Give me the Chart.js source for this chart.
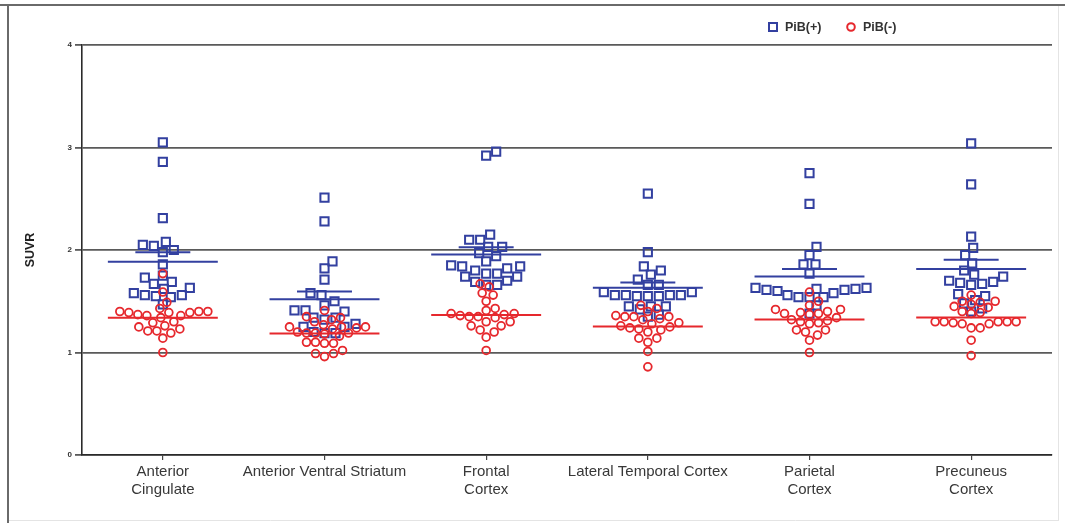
<!DOCTYPE html>
<html>
<head>
<meta charset="utf-8">
<title>SUVR by region</title>
<script src="https://cdn.jsdelivr.net/npm/chart.js@4.4.1/dist/chart.umd.min.js"></script>
<style>
  html, body { margin: 0; padding: 0; background: #ffffff; }
  #wrap { width: 1065px; height: 523px; }
</style>
</head>
<body>
<div id="wrap"><canvas id="chart" width="1065" height="523"></canvas></div>
<script>
// Regions along the x axis
const categories = [
  ['Anterior', 'Cingulate'],
  'Anterior Ventral Striatum',
  ['Frontal', 'Cortex'],
  'Lateral Temporal Cortex',
  ['Parietal', 'Cortex'],
  ['Precuneus', 'Cortex']
];
const yTicks = [0, 1, 2, 3, 4];

// PiB(+) subjects, SUVR per region
const posAnteriorCingulate = [3.05, 2.86, 2.31, 2.08, 2.05, 2.04, 2.00, 1.98, 1.86, 1.75, 1.73, 1.69, 1.67, 1.63, 1.62, 1.58, 1.56, 1.56, 1.55, 1.54, 1.47];
const posVentralStriatum   = [2.51, 2.28, 1.89, 1.82, 1.71, 1.58, 1.56, 1.50, 1.46, 1.41, 1.41, 1.40, 1.34, 1.34, 1.32, 1.28, 1.25, 1.25, 1.20, 1.19, 1.19];
const posFrontal           = [2.96, 2.92, 2.15, 2.10, 2.10, 2.03, 2.03, 1.97, 1.94, 1.89, 1.85, 1.84, 1.84, 1.82, 1.80, 1.77, 1.77, 1.74, 1.74, 1.70, 1.69, 1.66, 1.66];
const posLateralTemporal   = [2.55, 1.98, 1.84, 1.80, 1.76, 1.71, 1.66, 1.66, 1.59, 1.59, 1.56, 1.56, 1.56, 1.56, 1.55, 1.55, 1.55, 1.45, 1.45, 1.45, 1.42, 1.37, 1.35];
const posParietal          = [2.75, 2.45, 2.03, 1.95, 1.86, 1.86, 1.77, 1.63, 1.63, 1.62, 1.62, 1.61, 1.61, 1.60, 1.58, 1.56, 1.54, 1.54, 1.54, 1.46, 1.38];
const posPrecuneus         = [3.04, 2.64, 2.13, 2.02, 1.95, 1.87, 1.80, 1.76, 1.74, 1.70, 1.69, 1.68, 1.67, 1.66, 1.57, 1.55, 1.51, 1.48, 1.43, 1.40];

// PiB(-) subjects, SUVR per region
const negAnteriorCingulate = [1.77, 1.59, 1.49, 1.43, 1.40, 1.40, 1.40, 1.39, 1.39, 1.39, 1.37, 1.36, 1.36, 1.34, 1.30, 1.29, 1.26, 1.25, 1.23, 1.21, 1.21, 1.19, 1.14, 1.00];
const negVentralStriatum   = [1.41, 1.35, 1.34, 1.32, 1.30, 1.27, 1.25, 1.25, 1.25, 1.24, 1.23, 1.20, 1.19, 1.19, 1.19, 1.18, 1.16, 1.10, 1.10, 1.09, 1.09, 1.02, 0.99, 0.99, 0.96];
const negFrontal           = [1.67, 1.64, 1.58, 1.56, 1.50, 1.43, 1.41, 1.38, 1.38, 1.37, 1.36, 1.35, 1.35, 1.34, 1.30, 1.30, 1.26, 1.26, 1.22, 1.20, 1.15, 1.02];
const negLateralTemporal   = [1.46, 1.43, 1.40, 1.36, 1.35, 1.35, 1.35, 1.33, 1.32, 1.29, 1.28, 1.26, 1.25, 1.24, 1.23, 1.22, 1.20, 1.14, 1.14, 1.10, 1.01, 0.86];
const negParietal          = [1.59, 1.50, 1.46, 1.42, 1.42, 1.40, 1.39, 1.38, 1.38, 1.37, 1.34, 1.32, 1.31, 1.30, 1.29, 1.28, 1.22, 1.22, 1.20, 1.17, 1.12, 1.00];
const negPrecuneus         = [1.56, 1.50, 1.50, 1.49, 1.47, 1.45, 1.44, 1.40, 1.39, 1.38, 1.30, 1.30, 1.30, 1.30, 1.30, 1.29, 1.28, 1.28, 1.24, 1.24, 1.12, 0.97];

const pibPositive = [posAnteriorCingulate, posVentralStriatum, posFrontal, posLateralTemporal, posParietal, posPrecuneus];
const pibNegative = [negAnteriorCingulate, negVentralStriatum, negFrontal, negLateralTemporal, negParietal, negPrecuneus];

const BLUE = '#3340a0';
const RED = '#e6282d';
const MEAN_HALF = 0.34;   // half width of the mean bar, in category units
const CAP_HALF = 0.17;    // half width of the SEM cap
const FONT = '"Liberation Sans", Arial, sans-serif';

function mean(a) { return a.reduce((s, v) => s + v, 0) / a.length; }
function sem(a) {
  const m = mean(a);
  const v = a.reduce((s, x) => s + (x - m) * (x - m), 0) / (a.length - 1);
  return Math.sqrt(v / a.length);
}

// Horizontal segments (mean bar, upper SEM cap) per group, separated by gaps
function segments(groups, level, half) {
  const out = [];
  groups.forEach((g, i) => {
    const y = level(g);
    out.push({ x: i + 1 - half, y }, { x: i + 1 + half, y }, { x: i + 1.5, y: null });
  });
  return out;
}

// Points start at the category centre; the swarm pass spreads them afterwards
function centred(groups) {
  const out = [];
  groups.forEach((g, i) => g.forEach(v => out.push({ x: i + 1, y: v, c: i })));
  return out;
}

const framePlugin = {
  id: 'frame',
  beforeDraw(chart) {
    const { ctx, width, height } = chart;
    ctx.save();
    ctx.fillStyle = '#ffffff';
    ctx.fillRect(0, 0, width, height);
    ctx.strokeStyle = '#e4e4e4';
    ctx.lineWidth = 1;
    ctx.beginPath();
    ctx.moveTo(1058.5, 5); ctx.lineTo(1058.5, 521);
    ctx.moveTo(8, 520.5); ctx.lineTo(1058, 520.5);
    ctx.stroke();
    ctx.strokeStyle = '#6a6a6a';
    ctx.lineWidth = 2;
    ctx.beginPath();
    ctx.moveTo(0, 5); ctx.lineTo(width, 5);
    ctx.moveTo(8, 5); ctx.lineTo(8, height);
    ctx.stroke();
    ctx.restore();
  }
};

const legendPlugin = {
  id: 'legendBox',
  afterDraw(chart) {
    const { ctx } = chart;
    const items = chart.data.datasets.filter(d => d.legendRank).sort((a, b) => a.legendRank - b.legendRank);
    ctx.save();
    ctx.font = 'bold 12.5px ' + FONT;
    ctx.textBaseline = 'middle';
    let x = 773;
    const y = 27;
    items.forEach(d => {
      ctx.strokeStyle = d.pointBorderColor;
      ctx.lineWidth = 2;
      ctx.beginPath();
      if (d.pointStyle === 'rect') ctx.rect(x - 4, y - 4, 8, 8);
      else ctx.arc(x, y, 3.8, 0, Math.PI * 2);
      ctx.stroke();
      ctx.fillStyle = '#333333';
      ctx.fillText(d.label, x + 12, y + 0.5);
      x += 78;
    });
    ctx.restore();
  }
};

const ctx = document.getElementById('chart').getContext('2d');
const chart = new Chart(ctx, {
  type: 'scatter',
  data: {
    datasets: [
      { type: 'line', label: 'PiB(+) mean', data: segments(pibPositive, mean, MEAN_HALF),
        borderColor: BLUE, borderWidth: 2, pointRadius: 0, spanGaps: false, order: 0 },
      { type: 'line', label: 'PiB(+) SEM', data: segments(pibPositive, g => mean(g) + sem(g), CAP_HALF),
        borderColor: BLUE, borderWidth: 2, pointRadius: 0, spanGaps: false, order: 0 },
      { type: 'line', label: 'PiB(-) mean', data: segments(pibNegative, mean, MEAN_HALF),
        borderColor: RED, borderWidth: 2, pointRadius: 0, spanGaps: false, order: 0 },
      { label: 'PiB(-)', legendRank: 2, data: centred(pibNegative), pointStyle: 'circle',
        pointRadius: 3.9, pointBorderWidth: 1.8, pointBorderColor: RED, pointBackgroundColor: 'rgba(0,0,0,0)', order: 1 },
      { label: 'PiB(+)', legendRank: 1, data: centred(pibPositive), pointStyle: 'rect',
        pointRadius: 5.8, pointBorderWidth: 2, pointBorderColor: BLUE, pointBackgroundColor: 'rgba(0,0,0,0)', order: 2 }
    ]
  },
  options: {
    responsive: false,
    animation: false,
    events: [],
    layout: { padding: { top: 45, right: 13, left: 0, bottom: 0 } },
    plugins: { legend: { display: false }, tooltip: { enabled: false } },
    scales: {
      x: {
        type: 'linear', min: 0.5, max: 6.5,
        afterBuildTicks: s => { s.ticks = categories.map((c, i) => ({ value: i + 1 })); },
        afterFit: s => { s.height = 68; },
        ticks: {
          callback: v => categories[Math.round(v) - 1],
          autoSkip: false, maxRotation: 0, padding: 3,
          color: '#383838', font: { family: FONT, size: 15, lineHeight: 1.2 }
        },
        grid: { drawOnChartArea: false, drawTicks: true, tickLength: 5, color: '#444444', lineWidth: 1.2 },
        border: { color: '#2a2a2a', width: 1.6 }
      },
      y: {
        min: 0, max: 4,
        afterBuildTicks: s => { s.ticks = yTicks.map(v => ({ value: v })); },
        afterFit: s => { s.width = 82; },
        ticks: {
          padding: 3, color: '#333333',
          font: { family: FONT, size: 8, weight: 'bold' }
        },
        grid: { color: '#5a5a5a', lineWidth: 1.8, tickLength: 7, drawTicks: true },
        border: { color: '#2a2a2a', width: 1.6 },
        title: {
          display: true, text: 'SUVR', color: '#222222',
          font: { family: FONT, size: 12.5, weight: 'bold' },
          padding: { top: 23, bottom: 0 }
        }
      }
    }
  },
  plugins: [framePlugin, legendPlugin]
});

// Spread each column into a swarm so overlapping markers stay visible
function swarm(dataset, diam) {
  const xs = chart.scales.x, ys = chart.scales.y;
  const byCat = {};
  dataset.data.forEach(p => { (byCat[p.c] = byCat[p.c] || []).push(p); });
  Object.values(byCat).forEach(pts => {
    const placed = [];
    const cx = xs.getPixelForValue(pts[0].c + 1);
    pts.slice().sort((a, b) => a.y - b.y).forEach(p => {
      const py = ys.getPixelForValue(p.y);
      let off = 0;
      for (let k = 0; k < 400; k++) {
        const cand = k === 0 ? 0 : (k % 2 ? 1 : -1) * Math.ceil(k / 2);
        if (placed.every(q => (q.x - cand) ** 2 + (q.y - py) ** 2 >= diam * diam)) { off = cand; break; }
      }
      placed.push({ x: off, y: py });
      p.x = xs.getValueForPixel(cx + off);
    });
  });
}
swarm(chart.data.datasets[3], 9);
swarm(chart.data.datasets[4], 10.5);
chart.update('none');
</script>
</body>
</html>
